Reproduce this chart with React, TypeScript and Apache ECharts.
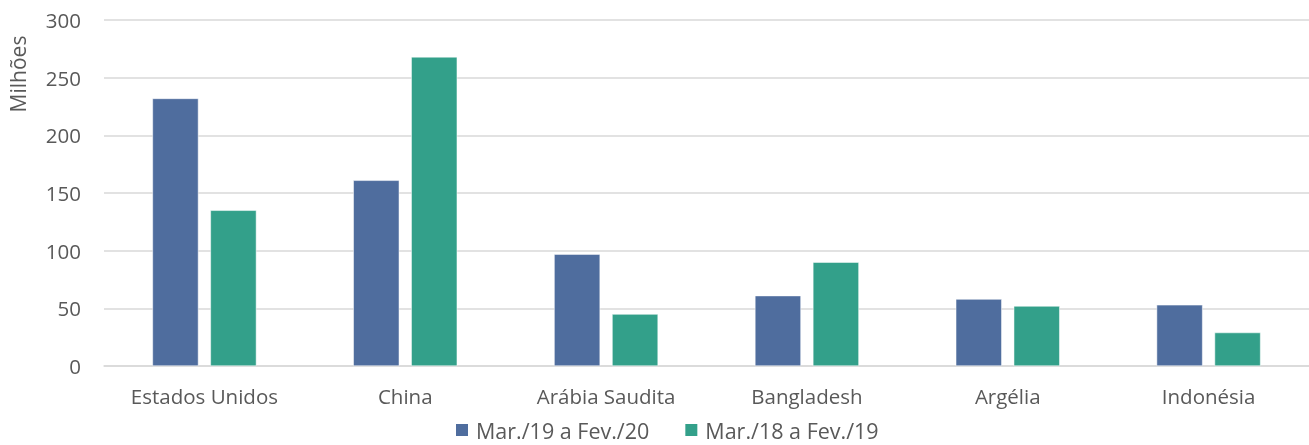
import React, { useEffect, useRef } from "react";
import * as echarts from "echarts";

const categories = ["Estados Unidos", "China", "Arábia Saudita", "Bangladesh", "Argélia", "Indonésia"];
const series1Name = "Mar./19 a Fev./20";
const series2Name = "Mar./18 a Fev./19";
const series1 = [232, 161, 97, 61, 58, 53];
const series2 = [135, 268, 45, 90, 52, 29];
const yAxisTitle = "Milhões";

export default function App() {
  const ref = useRef<HTMLDivElement>(null);
  useEffect(() => {
    if (!ref.current) return;
    const chart = echarts.init(ref.current, null, { renderer: "svg" });
    const font = "'Open Sans', 'Noto Sans', sans-serif";
    chart.setOption({
      animation: false,
      textStyle: { fontFamily: font },
      grid: { left: 104, right: 0, top: 20, bottom: 79, containLabel: false },
      legend: {
        top: 413,
        left: 449,
        padding: 5,
        itemWidth: 14,
        itemHeight: 14,
        itemGap: 34,
        icon: "rect",
        textStyle: { fontSize: 21.5, lineHeight: 24, color: "#595959", fontFamily: font, padding: [0, 0, 0, 2] },
        data: [series1Name, series2Name],
      },
      graphic: [
        {
          type: "text",
          x: 7,
          y: 74,
          rotation: Math.PI / 2,
          style: {
            text: yAxisTitle,
            fontSize: 21,
            fill: "#595959",
            fontFamily: font,
            textAlign: "center",
            textVerticalAlign: "top",
          },
        },
      ],
      xAxis: {
        type: "category",
        data: categories,
        axisTick: { show: false },
        axisLine: { lineStyle: { color: "#D9D9D9", width: 1.5 } },
        axisLabel: { color: "#595959", fontSize: 20.5, margin: 19, fontFamily: font },
      },
      yAxis: {
        type: "value",
        min: 0,
        max: 300,
        interval: 50,
        axisLine: { show: false },
        axisTick: { show: false },
        axisLabel: { color: "#595959", fontSize: 20.5, margin: 23, fontFamily: font },
        splitLine: { lineStyle: { color: "#D9D9D9", width: 1.5 } },
      },
      series: [
        {
          name: series1Name,
          type: "bar",
          data: series1,
          barWidth: 46,
          barGap: "26%",
          itemStyle: { color: "#4F6D9E", borderColor: "#FFFFFF", borderWidth: 0.5 },
        },
        {
          name: series2Name,
          type: "bar",
          data: series2,
          barWidth: 46,
          itemStyle: { color: "#33A08A", borderColor: "#FFFFFF", borderWidth: 0.5 },
        },
      ],
    });
    return () => chart.dispose();
  }, []);
  return <div ref={ref} style={{ width: 1309, height: 445, position: "fixed", left: 0, top: 0 }} />;
}
